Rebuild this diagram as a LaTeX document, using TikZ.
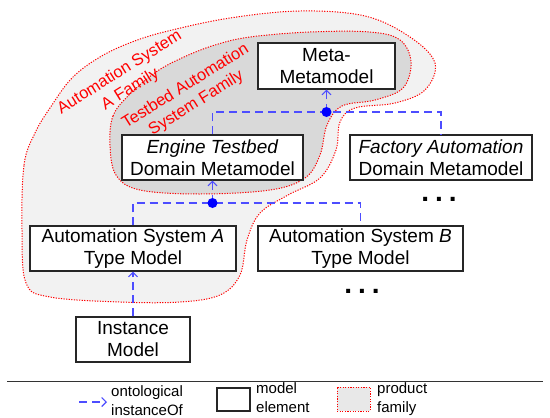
\documentclass[tikz,border=0pt]{standalone}
\usepackage{fontspec}
\setmainfont{Liberation Sans}
\usetikzlibrary{arrows.meta}
\definecolor{instblue}{RGB}{77,77,255}
\definecolor{famred}{RGB}{255,0,0}
\definecolor{famlight}{RGB}{242,242,242}
\definecolor{famdark}{RGB}{217,217,217}
\definecolor{famlegend}{RGB}{232,232,232}

\begin{document}
\begin{tikzpicture}[x=1pt, y=-1pt,
    elem/.style={draw=black!85, line width=1.1pt, fill=white, align=center,
        inner sep=0pt, font=\fontsize{19}{22}\selectfont},
    instof/.style={draw=instblue, line width=1.2pt, dash pattern=on 8pt off 5pt},
    instip/.style={-{Straight Barb[length=4.5pt, width=9pt, line width=1.1pt]}},
    fam/.style={draw=famred, line width=1pt, dash pattern=on 1.2pt off 1.4pt},
    famtext/.style={text=famred, align=center, rotate=32, inner sep=0pt,
        font=\fontsize{16.5}{20}\selectfont},
    legtext/.style={align=left, anchor=west, inner sep=0pt,
        font=\fontsize{15}{19}\selectfont},
    moredots/.style={inner sep=0pt, anchor=base,
        font=\fontsize{28}{28}\selectfont\bfseries}
]
        \useasboundingbox (0,0) rectangle (550,418);

        % product families
        \draw[fam, fill=famlight] plot[smooth cycle, tension=0.6] coordinates {
            (22,230) (24,165) (35,133) (50,108) (72,78) (100,57) (132,42)
            (168,31) (230,18) (300,11) (365,16) (410,37) (435,63) (425,90)
            (395,103) (355,108) (340,122) (336,150) (320,178) (288,195)
            (260,213) (247,240) (240,275) (220,295) (180,302) (120,302)
            (50,297) (26,283)};
        \draw[fam, fill=famdark] plot[smooth cycle, tension=0.6] coordinates {
            (110,145) (113,116) (129,95) (156,72) (184,57) (215,45) (250,37)
            (310,32) (370,32) (400,40) (411,62) (403,88) (375,100) (342,106)
            (327,125) (320,155) (305,178) (270,190) (200,194) (140,190)
            (116,175)};
        \node[famtext] (famA) at (125,81) {Automation System\\A Family};
        \node[famtext] (famTest) at (191,95) {Testbed Automation\\System Family};

        % model elements
        \node[elem, minimum width=137pt, minimum height=46pt] (meta) at (326.5,66) {Meta-\\Metamodel};
        \node[elem, minimum width=181pt, minimum height=45pt] (engine) at (212.5,157.5) {\textit{Engine Testbed}\\Domain Metamodel};
        \node[elem, minimum width=182pt, minimum height=45pt] (factory) at (441,157.5) {\textit{Factory Automation}\\Domain Metamodel};
        \node[elem, minimum width=206pt, minimum height=45pt] (typeA) at (133,248.5) {Automation System \textit{A}\\Type Model};
        \node[elem, minimum width=205pt, minimum height=45pt] (typeB) at (360.5,248.5) {Automation System \textit{B}\\Type Model};
        \node[elem, minimum width=114pt, minimum height=45pt] (inst) at (133,339.5) {Instance\\Model};
        \node[moredots] (moreDomain) at (439,201) {.\kern6pt.\kern6pt.};
        \node[moredots] (moreType) at (362,293) {.\kern6pt.\kern6pt.};

        % ontological instanceOf
        \coordinate (upJ) at (326.5,112);
        \coordinate (lowJ) at (212.5,203);
        \draw[instof] (engine.north) |- (upJ) -| (factory.north);
        \draw[instof, instip] (upJ) -- (meta.south);
        \fill[blue] (upJ) circle (5pt);
        \draw[instof] (typeA.north) |- (lowJ) -| (typeB.north);
        \draw[instof, instip] (lowJ) -- (engine.south);
        \fill[blue] (lowJ) circle (5pt);
        \draw[instof, instip] (inst.north) -- (typeA.south);

        % legend
        \draw[line width=0.9pt, black!80] (7,381) -- (543,381);
        \coordinate (legFrom) at (79,402);
        \coordinate (legTo) at (107,402);
        \draw[instof, instip] (legFrom) -- (legTo);
        \node[legtext] (legInst) at (111,401) {ontological\\instanceOf};
        \node[elem, minimum width=33pt, minimum height=23pt] (legElem) at (233.5,399.5) {};
        \node[legtext] (legElemText) at (256,398) {model\\element};
        \node[fam, fill=famlegend, minimum width=33pt, minimum height=24pt, inner sep=0pt] (legFam) at (353.5,399) {};
        \node[legtext] (legFamText) at (377,399) {product\\family};
\end{tikzpicture}
\end{document}
